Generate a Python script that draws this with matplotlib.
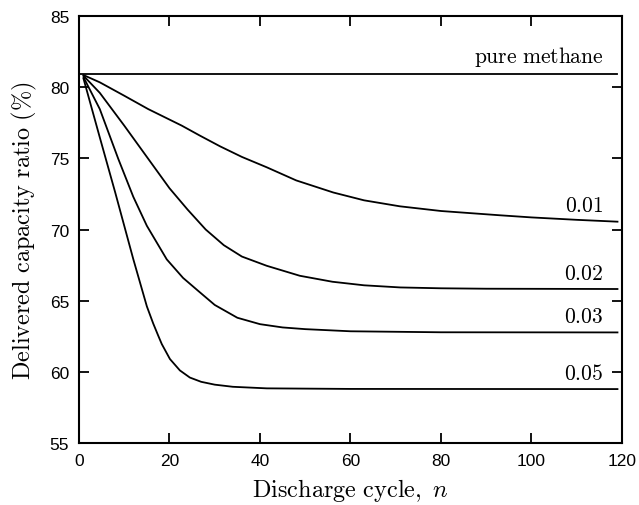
import matplotlib
matplotlib.use("Agg")
import matplotlib.pyplot as plt

plt.rcParams['mathtext.fontset'] = 'cm'

# Data
pure_n = [0, 119]
pure_v = [80.92, 80.92]

n_001 = [1, 4.6, 10, 15.3, 22.7, 26.7, 31.2, 36, 41.5, 48, 56.2, 63, 70.9, 80, 93, 100, 110, 119]
v_001 = [80.85, 80.34, 79.4, 78.46, 77.3, 76.6, 75.84, 75.1, 74.37, 73.45, 72.6, 72.05, 71.63, 71.3, 71.0, 70.85, 70.68, 70.55]

n_002 = [1, 4.6, 10, 15, 20, 24, 28, 32, 36, 41.5, 48.8, 56, 63, 71, 80, 90, 119]
v_002 = [80.8, 79.6, 77.3, 75.1, 72.9, 71.4, 70.0, 68.9, 68.1, 67.45, 66.75, 66.33, 66.08, 65.93, 65.87, 65.84, 65.82]

n_003 = [1, 4.6, 8.7, 12, 15, 19.4, 23, 26.3, 30, 35, 40, 45, 50, 60, 80, 119]
v_003 = [80.7, 78.46, 74.95, 72.3, 70.26, 67.9, 66.6, 65.7, 64.7, 63.8, 63.35, 63.12, 63.0, 62.85, 62.78, 62.77]

n_005 = [1, 4.6, 8, 12, 15, 16.4, 17.5, 18.3, 20.1, 22.3, 24.5, 27, 30, 34, 41.5, 60, 119]
v_005 = [80.6, 76.47, 72.61, 67.92, 64.6, 63.4, 62.55, 61.95, 60.9, 60.1, 59.6, 59.3, 59.1, 58.95, 58.84, 58.8, 58.79]

labels = ["pure methane", "0.01", "0.02", "0.03", "0.05"]
label_y = [80.92, 70.55, 65.82, 62.77, 58.79]

fig = plt.figure(figsize=(6.39, 5.06), dpi=100)
ax = fig.add_axes([0.1236, 0.1225, 0.8498, 0.8439])

series = [(pure_n, pure_v), (n_001, v_001), (n_002, v_002), (n_003, v_003), (n_005, v_005)]
for (xs, ys) in series:
    ax.plot(xs, ys, color='black', lw=1.3)

for lab, yv in zip(labels, label_y):
    ax.text(115.9, yv + 0.45, r'$\mathrm{' + lab.replace(' ', r'\ ') + '}$',
            ha='right', va='bottom', fontsize=15.5)

ax.set_xlim(0, 120)
ax.set_ylim(55, 85)
ax.set_xticks([0, 20, 40, 60, 80, 100, 120])
ax.set_yticks([55, 60, 65, 70, 75, 80, 85])
ax.tick_params(direction='in', top=True, right=True, length=7, width=1.3,
               labelsize=12.5, pad=7)
for lab in ax.get_xticklabels() + ax.get_yticklabels():
    lab.set_family('Liberation Sans')
for s in ax.spines.values():
    s.set_linewidth(1.5)

ax.set_xlabel(r'$\mathrm{Discharge\ cycle,}\ n$', fontsize=17.5, labelpad=6)
ax.set_ylabel(r'$\mathrm{Delivered\ capacity\ ratio\ (\%)}$', fontsize=17.5, labelpad=8)

fig.savefig('out.png', dpi=100)
